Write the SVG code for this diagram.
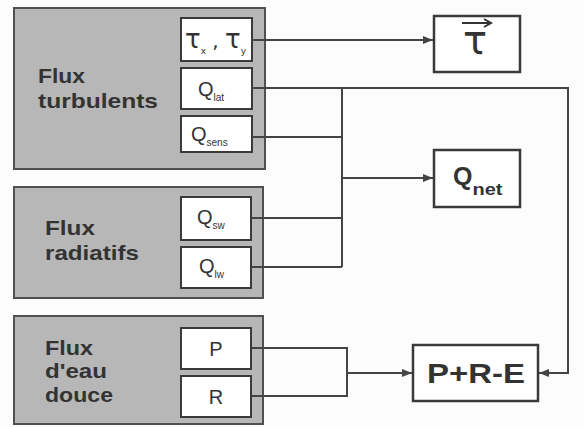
<svg xmlns="http://www.w3.org/2000/svg" width="584" height="427" viewBox="0 0 584 427">
<style>
.grp{fill:#b7b7b7;stroke:#505050;stroke-width:2}
.in{fill:#ffffff;stroke:#3a3a3a;stroke-width:2}
.out{fill:#ffffff;stroke:#3a3a3a;stroke-width:2.5}
.lbl{font-family:"Liberation Sans",Arial,sans-serif;font-weight:bold;font-size:21px;fill:#333}
.q{font-family:"Liberation Sans",Arial,sans-serif;font-size:20px;fill:#333}
.sub{font-size:10px}
.tau{font-family:"DejaVu Sans",sans-serif;fill:#333}
.big{font-family:"Liberation Sans",Arial,sans-serif;font-weight:bold;fill:#333}
.ln{fill:none;stroke:#444;stroke-width:2}
</style>
<defs>
<marker id="ah" viewBox="0 0 10 8" refX="10" refY="4" markerWidth="10" markerHeight="8" markerUnits="userSpaceOnUse" orient="auto">
<path d="M0,0 L10,4 L0,8 Z" fill="#444"/>
</marker>
</defs>
<rect width="584" height="427" fill="#fcfcfc"/>

<g id="flux-turbulents">
<rect class="grp" x="14" y="8" width="251" height="161"/>
<text class="lbl" x="38" y="83" textLength="47" lengthAdjust="spacingAndGlyphs">Flux</text>
<text class="lbl" x="38" y="108" textLength="120" lengthAdjust="spacingAndGlyphs">turbulents</text>
</g>
<g id="tau-xy">
<rect class="in" x="181" y="18" width="71" height="43"/>
<text class="tau" x="185" y="48" font-size="26">τ<tspan font-size="9" dy="6">x</tspan><tspan font-size="20" dy="-6"> , </tspan>τ<tspan font-size="9" dy="6">y</tspan></text>
</g>
<g id="q-lat">
<rect class="in" x="181" y="68" width="71" height="41"/>
<text class="q" x="198" y="96">Q<tspan class="sub" dy="5">lat</tspan></text>
</g>
<g id="q-sens">
<rect class="in" x="181" y="116" width="71" height="36"/>
<text class="q" x="191" y="141">Q<tspan class="sub" dy="5">sens</tspan></text>
</g>

<g id="flux-radiatifs">
<rect class="grp" x="14" y="187" width="249" height="111"/>
<text class="lbl" x="45" y="235" textLength="50" lengthAdjust="spacingAndGlyphs">Flux</text>
<text class="lbl" x="45" y="260" textLength="94" lengthAdjust="spacingAndGlyphs">radiatifs</text>
</g>
<g id="q-sw">
<rect class="in" x="181" y="197" width="70" height="43"/>
<text class="q" x="197" y="224">Q<tspan class="sub" dy="5">sw</tspan></text>
</g>
<g id="q-lw">
<rect class="in" x="181" y="247" width="70" height="41"/>
<text class="q" x="199" y="273">Q<tspan class="sub" dy="5">lw</tspan></text>
</g>

<g id="flux-eau-douce">
<rect class="grp" x="14" y="316" width="249" height="108"/>
<text class="lbl" x="45" y="355" textLength="48" lengthAdjust="spacingAndGlyphs">Flux</text>
<text class="lbl" x="45" y="378" textLength="62" lengthAdjust="spacingAndGlyphs">d'eau</text>
<text class="lbl" x="45" y="402" textLength="68" lengthAdjust="spacingAndGlyphs">douce</text>
</g>
<g id="p">
<rect class="in" x="181" y="328" width="70" height="41"/>
<text class="q" x="216" y="356" text-anchor="middle">P</text>
</g>
<g id="r">
<rect class="in" x="181" y="376" width="70" height="41"/>
<text class="q" x="216" y="404" text-anchor="middle">R</text>
</g>

<g id="tau-vec">
<rect class="out" x="434" y="16" width="86" height="56"/>
<text class="tau" x="475" y="54" font-size="40" text-anchor="middle">τ</text>
<path d="M462,23 H490 M484,19 L491,23 L484,27" fill="none" stroke="#333" stroke-width="2"/>
</g>
<g id="q-net">
<rect class="out" x="434" y="150" width="86" height="57"/>
<text class="big" x="453" y="185" font-size="25">Q<tspan font-size="17" dy="10" textLength="30" lengthAdjust="spacingAndGlyphs">net</tspan></text>
</g>
<g id="pre">
<rect class="out" x="413" y="345" width="125" height="56"/>
<text class="big" x="427" y="383" font-size="28" textLength="98" lengthAdjust="spacingAndGlyphs">P+R-E</text>
</g>

<g id="connectors">
<path class="ln" d="M252,40 H433" marker-end="url(#ah)"/>
<path class="ln" d="M252,88 H568 V373 H539" marker-end="url(#ah)"/>
<path class="ln" d="M342,88 V267"/>
<path class="ln" d="M252,137 H342"/>
<path class="ln" d="M251,218 H342"/>
<path class="ln" d="M251,267 H342"/>
<path class="ln" d="M342,178 H433" marker-end="url(#ah)"/>
<path class="ln" d="M251,348 H347 V396 H251"/>
<path class="ln" d="M347,373 H412" marker-end="url(#ah)"/>
</g>
</svg>
